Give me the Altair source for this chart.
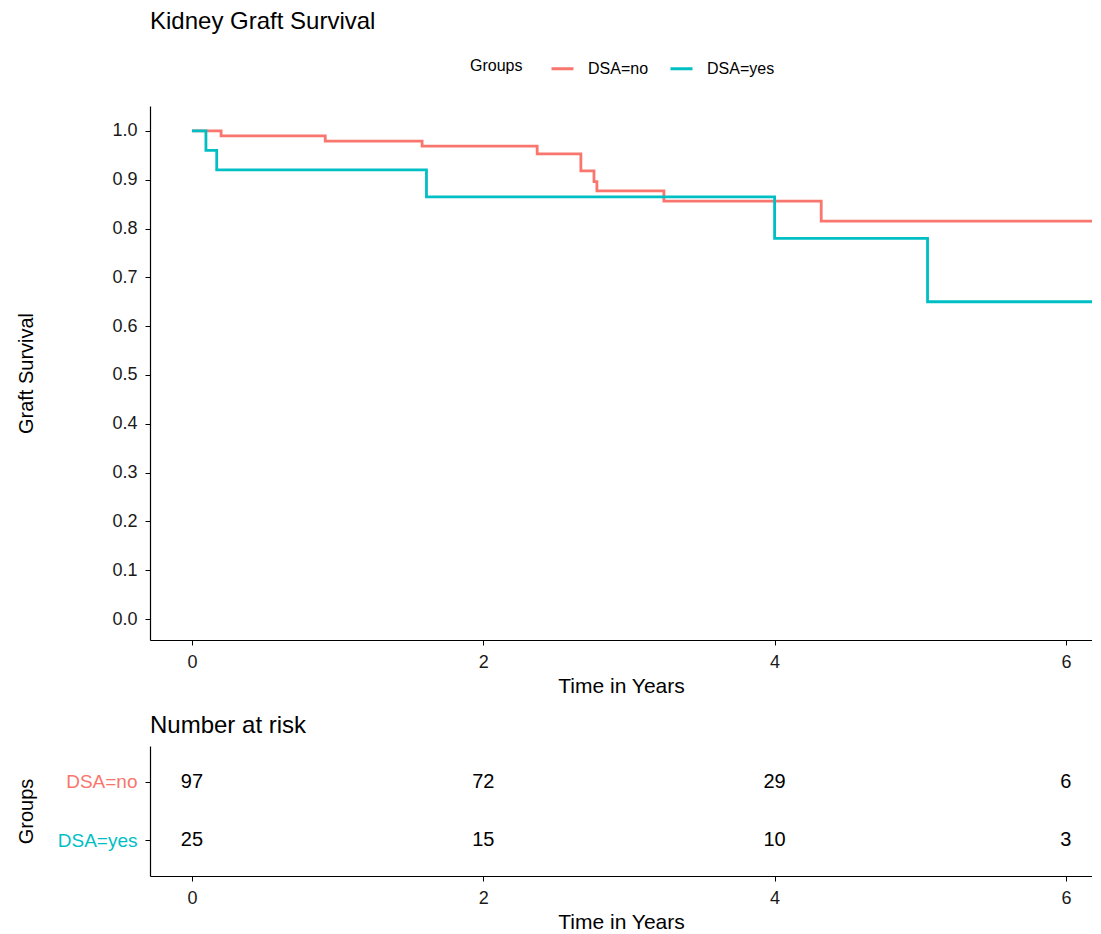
import altair as alt
import pandas as pd

# Kaplan-Meier step estimates
no_time = [0.0, 0.20, 0.915, 1.58, 2.37, 2.67, 2.76, 2.78, 3.24, 4.32, 6.23]
no_surv = [1.0, 0.990, 0.979, 0.969, 0.953, 0.918, 0.896, 0.877, 0.856, 0.815, 0.815]
yes_time = [0.0, 0.096, 0.17, 1.61, 4.0, 5.05, 6.23]
yes_surv = [1.0, 0.96, 0.92, 0.865, 0.78, 0.65, 0.65]

# Number at risk table
risk_times = [0, 2, 4, 6]
risk_no = [97, 72, 29, 6]
risk_yes = [25, 15, 10, 3]

groups = ["DSA=no", "DSA=yes"]
colors = ["#F8766D", "#00BFC4"]
x_ticks = [0, 2, 4, 6]
y_ticks = [0.0, 0.1, 0.2, 0.3, 0.4, 0.5, 0.6, 0.7, 0.8, 0.9, 1.0]

FONT = "Liberation Sans"

km = pd.concat([
    pd.DataFrame({"time": no_time, "surv": no_surv, "group": groups[0]}),
    pd.DataFrame({"time": yes_time, "surv": yes_surv, "group": groups[1]}),
])
riskdf = pd.concat([
    pd.DataFrame({"time": risk_times, "n": risk_no, "group": groups[0]}),
    pd.DataFrame({"time": risk_times, "n": risk_yes, "group": groups[1]}),
])

W = 942
H_MAIN = 534
H_RISK = 130

x_scale = alt.Scale(domain=[-0.288, 6.179], nice=False, zero=False)


def x_axis():
    return alt.Axis(values=x_ticks, title="Time in Years", grid=False,
                    domainColor="black", domainWidth=1.2, tickColor="black", tickSize=5,
                    labelColor="#1a1a1a", labelFont=FONT, labelFontSize=18, labelPadding=8,
                    titleFont=FONT, titleFontSize=21, titleFontWeight="normal",
                    titleColor="black", titlePadding=4)


main = alt.Chart(km).mark_line(interpolate="step-after", strokeWidth=2.8, clip=True).encode(
    x=alt.X("time:Q", scale=x_scale, axis=x_axis()),
    y=alt.Y("surv:Q",
            scale=alt.Scale(domain=[-0.043, 1.051], nice=False, zero=False),
            axis=alt.Axis(values=y_ticks, format=".1f", title="Graft Survival", grid=False,
                          domainColor="black", domainWidth=1.2, tickColor="black", tickSize=5,
                          labelColor="#1a1a1a", labelFont=FONT, labelFontSize=18, labelPadding=8,
                          titleFont=FONT, titleFontSize=20, titleFontWeight="normal",
                          titleColor="black", titleX=-124, titleY=H_MAIN / 2,
                          titleBaseline="middle")),
    color=alt.Color("group:N", scale=alt.Scale(domain=groups, range=colors),
                    legend=alt.Legend(orient="none", legendX=320, legendY=-50,
                                      direction="horizontal", title="Groups", titleOrient="left",
                                      titleFont=FONT, titleFontSize=16, titleFontWeight="normal",
                                      titleColor="black", titlePadding=27,
                                      labelFont=FONT, labelFontSize=16, labelColor="black",
                                      symbolType="stroke", symbolStrokeWidth=3, symbolSize=484,
                                      labelOffset=13, columnPadding=15)),
).properties(width=W, height=H_MAIN,
             title=alt.Title("Kidney Graft Survival", anchor="start", frame="group",
                             font=FONT, fontSize=24, fontWeight="normal", color="black",
                             offset=72))

risk = alt.Chart(riskdf).mark_text(font=FONT, fontSize=20, color="black").encode(
    x=alt.X("time:Q", scale=x_scale, axis=x_axis()),
    y=alt.Y("group:N",
            scale=alt.Scale(type="point", domain=groups, padding=0.62),
            axis=alt.Axis(title="Groups", grid=False,
                          domainColor="black", domainWidth=1.2, tickColor="black", tickSize=5,
                          labelFont=FONT, labelFontSize=19, labelPadding=8,
                          labelColor={"condition": {"test": "datum.value === 'DSA=no'",
                                                    "value": colors[0]},
                                      "value": colors[1]},
                          titleFont=FONT, titleFontSize=20, titleFontWeight="normal",
                          titleColor="black", titleX=-124, titleY=H_RISK / 2,
                          titleBaseline="middle")),
    text="n:Q",
).properties(width=W, height=H_RISK,
             title=alt.Title("Number at risk", anchor="start", frame="group",
                             font=FONT, fontSize=24, fontWeight="normal", color="black",
                             offset=8))

chart = alt.vconcat(main, risk, spacing=18).properties(
    padding={"left": 8, "right": 0, "top": 2, "bottom": 0},
    background="white",
).configure_view(stroke=None)

chart.save("out.html", embed_options={"renderer": "svg", "actions": False})
